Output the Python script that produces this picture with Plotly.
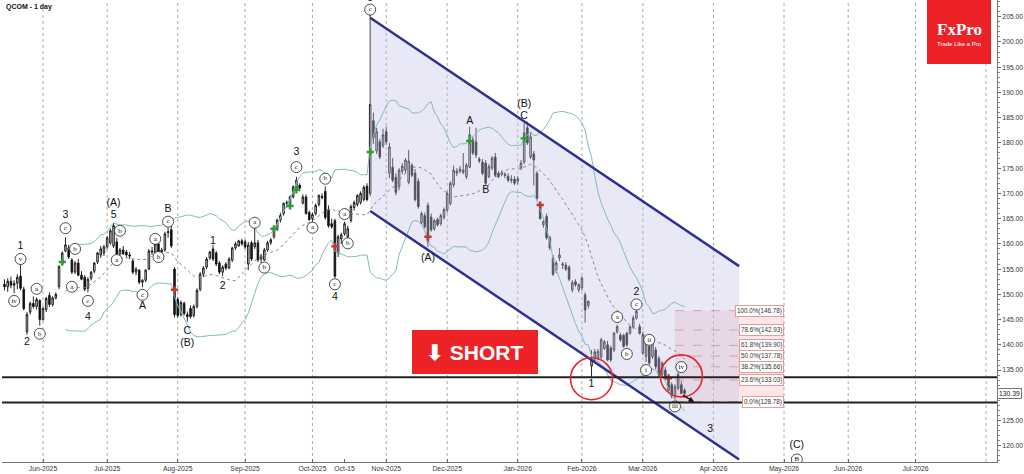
import pandas as pd
import numpy as np
import plotly.graph_objects as go

# ---------------- calendar (trading days) ----------------
holidays = ["2025-05-26", "2025-06-19", "2025-07-04", "2025-09-01", "2025-11-27",
            "2025-12-25", "2026-01-01", "2026-01-19", "2026-02-16", "2026-05-25",
            "2026-06-19", "2026-07-03"]
cal = pd.offsets.CustomBusinessDay(holidays=holidays)
days = pd.date_range("2025-05-14", "2026-08-31", freq=cal)
day_index = {d.strftime("%Y-%m-%d"): i for i, d in enumerate(days)}


def xi(s):
    return day_index[s]


# ---------------- OHLC data (QCOM daily) ----------------
open_ = [
    152.0, 151.5, 152.6, 151.8, 152.2, 153.6, 151.0, 142.6, 146.5, 148.2, 147.6, 148.8,
    145.0, 147.0, 149.8, 148.0, 149.3, 151.5, 156.0, 158.6, 159.2, 156.8, 154.4, 156.2, 153.8, 153.4, 151.2, 153.2, 154.6, 156.4, 157.8, 158.2,
    159.4, 160.2, 159.6, 160.4, 158.0, 158.8, 158.4, 157.8, 156.6, 154.4, 154.8, 152.4, 152.8, 155.0, 158.6, 158.2, 160.0, 158.4, 158.8, 162.2, 162.8, 155.0,
    149.0, 146.0, 148.2, 146.0, 147.2, 145.8, 147.6, 151.0, 154.0, 155.4, 157.2, 159.0, 158.2, 156.2, 154.4, 156.0, 155.2, 156.8, 159.2, 159.6, 160.6,
    160.4, 156.0, 160.2, 159.4, 160.2, 157.0, 156.8, 158.8, 160.2, 161.4, 162.8, 164.7, 166.0, 168.0, 167.3, 169.3, 170.6, 171.6, 168.1, 169.3, 166.2,
    165.0, 166.0, 167.8, 169.4, 170.4, 166.8, 164.0, 164.6, 158.2, 161.0, 162.0, 161.4, 164.6, 167.2, 167.8, 168.2, 168.8, 171.4, 170.0, 184.4, 178.4, 180.2, 179.4,
    182.2, 174.0, 175.2, 173.2, 171.3, 174.4, 174.6, 172.2, 175.6, 174.0, 172.4, 164.2, 165.6, 167.6, 165.3, 163.0, 164.8, 164.0, 165.2,
    166.7, 168.0, 171.7, 174.0, 174.4, 174.2, 173.3, 175.2, 180.6, 180.2, 176.8, 176.2, 176.0, 173.3, 175.0, 177.2, 174.0, 173.8, 173.8, 173.4, 172.8, 172.8,
    172.4, 175.0, 176.2, 183.0, 177.2, 177.8, 174.0, 167.4, 163.8, 165.4, 161.2, 157.2, 154.8, 157.2, 155.8, 155.8, 155.4, 150.9, 152.5, 150.9,
    151.3, 149.9, 147.8, 135.8, 137.0, 137.4, 137.6, 139.3, 140.0, 139.4, 139.0, 142.6, 141.9, 141.9, 142.3, 142.3, 143.5, 145.3, 143.6,
    138.4, 137.7, 139.7, 137.7, 139.0, 137.3, 134.1, 135.0, 133.7, 132.1, 129.8, 131.4, 132.1, 131.0,
]
high_ = [
    153.0, 153.2, 153.5, 152.8, 154.0, 156.0, 151.5, 146.5, 148.6, 149.6, 149.4, 149.0,
    147.6, 149.5, 150.4, 149.6, 150.4, 155.8, 158.5, 161.3, 159.8, 157.2, 156.6, 157.0, 154.6, 153.8, 153.4, 154.6, 156.4, 158.4, 159.6, 159.8,
    161.6, 163.0, 164.2, 161.2, 159.2, 159.6, 158.8, 158.4, 157.0, 155.4, 155.0, 153.0, 155.0, 159.0, 159.4, 160.4, 160.6, 159.2, 162.4, 163.2, 163.8, 155.4,
    149.4, 148.8, 148.6, 146.6, 147.8, 148.0, 151.2, 154.4, 155.6, 157.4, 158.6, 159.8, 158.6, 156.6, 155.8, 156.4, 157.4, 159.4, 160.4, 160.8, 161.0,
    160.8, 160.4, 160.6, 163.4, 160.8, 158.0, 159.2, 160.6, 161.2, 163.0, 165.0, 166.2, 168.2, 168.6, 169.6, 171.6, 173.3, 172.0, 169.8, 169.8, 166.6,
    166.2, 168.0, 169.8, 170.0, 171.4, 167.6, 165.0, 165.0, 161.8, 162.2, 164.4, 163.6, 167.8, 168.6, 169.8, 170.4, 171.6, 172.0, 205.6, 186.0, 183.0, 180.8, 182.8,
    183.2, 180.0, 177.0, 174.0, 175.0, 176.0, 177.0, 178.6, 176.0, 174.8, 173.0, 166.4, 166.2, 168.2, 166.0, 165.0, 165.2, 166.0, 167.2,
    170.4, 172.4, 175.5, 175.0, 175.4, 178.0, 176.0, 183.2, 181.2, 183.0, 177.2, 176.8, 176.6, 175.8, 177.4, 178.0, 174.4, 174.6, 174.2, 174.0, 173.6, 173.4,
    173.4, 176.6, 184.0, 184.2, 182.0, 178.4, 174.4, 168.0, 164.8, 166.0, 161.6, 157.8, 156.6, 159.2, 156.4, 156.4, 155.8, 152.8, 153.0, 152.2,
    153.6, 150.4, 148.8, 139.0, 139.2, 139.2, 141.4, 141.0, 140.8, 139.8, 142.6, 144.0, 142.4, 142.2, 142.6, 143.8, 145.8, 147.3, 144.2,
    142.6, 141.2, 141.6, 141.4, 139.6, 137.8, 136.8, 135.6, 134.2, 132.6, 132.2, 134.6, 132.8, 131.4,
]
low_ = [
    150.8, 150.5, 151.2, 150.2, 151.0, 150.8, 146.8, 142.0, 146.0, 147.2, 147.0, 143.8,
    144.8, 146.5, 147.5, 147.6, 149.0, 151.0, 155.8, 158.4, 157.0, 154.0, 154.0, 153.6, 152.8, 150.6, 150.4, 152.8, 154.2, 156.0, 157.2, 157.6,
    159.0, 159.8, 159.2, 157.6, 157.6, 157.8, 157.4, 157.0, 154.0, 153.8, 152.0, 151.4, 152.4, 154.8, 157.8, 158.0, 157.8, 158.0, 158.4, 161.2, 159.2, 145.4,
    145.4, 145.6, 145.8, 144.6, 145.2, 145.4, 147.2, 150.6, 153.4, 155.0, 156.8, 156.6, 155.6, 154.0, 153.6, 154.8, 155.0, 156.4, 158.8, 159.4, 159.6,
    159.0, 154.8, 156.6, 159.0, 156.4, 156.2, 156.6, 158.4, 159.8, 161.0, 162.6, 164.2, 165.6, 167.2, 167.0, 169.0, 170.4, 170.4, 167.8, 165.8, 164.6,
    164.4, 165.6, 167.4, 168.8, 164.8, 163.2, 163.0, 153.2, 157.4, 160.0, 161.6, 161.0, 164.2, 166.6, 167.4, 167.8, 168.4, 168.4, 169.4, 179.8, 177.8, 176.8, 179.0,
    179.6, 173.0, 172.2, 169.6, 170.6, 173.8, 174.0, 171.8, 173.2, 168.4, 167.0, 163.8, 163.0, 159.4, 162.4, 162.6, 163.4, 163.6, 164.8,
    166.2, 167.6, 171.2, 173.4, 174.0, 173.8, 172.8, 175.0, 177.6, 177.0, 176.0, 173.6, 171.6, 173.0, 174.6, 173.2, 173.0, 173.4, 173.0, 172.2, 172.0, 171.6,
    171.8, 174.6, 175.8, 179.6, 176.8, 171.6, 168.6, 164.8, 163.2, 160.8, 158.8, 153.6, 154.2, 156.6, 155.0, 154.6, 152.6, 150.4, 151.5, 150.4,
    150.8, 144.4, 147.2, 133.4, 136.4, 137.0, 137.2, 139.0, 136.8, 136.6, 138.6, 142.2, 140.6, 139.4, 139.6, 142.0, 143.2, 145.0, 142.0,
    138.0, 136.6, 136.0, 137.2, 135.2, 133.6, 133.8, 133.0, 130.8, 129.4, 129.2, 131.0, 130.2, 129.6,
]
close_ = [
    151.5, 152.6, 151.8, 152.2, 153.4, 151.2, 147.2, 146.0, 148.2, 147.6, 149.0, 145.0,
    147.2, 149.2, 148.0, 149.3, 150.0, 155.5, 158.2, 159.8, 157.4, 154.4, 156.2, 153.8, 153.0, 151.0, 153.0, 154.4, 156.2, 158.2, 159.0, 159.4,
    161.2, 162.6, 163.6, 158.0, 158.8, 158.0, 157.8, 157.6, 154.4, 155.0, 152.4, 152.8, 154.8, 158.6, 158.4, 160.0, 158.4, 158.8, 162.0, 162.4, 159.6, 146.0,
    145.8, 148.4, 146.2, 145.6, 145.6, 147.6, 150.8, 154.0, 155.2, 157.0, 158.4, 157.0, 156.0, 154.4, 155.4, 155.2, 157.0, 159.2, 160.0, 160.6, 160.0,
    159.4, 159.8, 157.0, 160.2, 156.8, 157.6, 158.8, 160.2, 160.8, 162.8, 164.7, 165.6, 168.0, 168.2, 169.3, 171.3, 172.6, 171.0, 169.3, 166.0, 164.8,
    165.8, 167.6, 169.6, 169.2, 165.2, 163.6, 163.4, 153.6, 161.4, 161.8, 164.0, 163.0, 167.4, 168.2, 169.6, 170.0, 171.2, 168.8, 187.6, 181.0, 182.2, 177.2, 181.6,
    180.2, 179.2, 172.6, 170.2, 174.6, 175.4, 176.6, 176.4, 173.6, 168.8, 167.4, 166.0, 163.4, 160.4, 162.8, 164.6, 163.8, 165.6, 166.8,
    170.0, 172.0, 174.6, 174.4, 174.8, 174.6, 175.6, 181.6, 178.0, 177.6, 176.4, 174.0, 172.0, 175.3, 177.0, 173.6, 173.3, 174.0, 173.6, 172.6, 172.6, 172.0,
    172.9, 176.0, 182.0, 180.0, 181.2, 176.6, 169.0, 165.0, 164.4, 161.2, 159.2, 154.0, 156.2, 157.8, 156.0, 155.0, 153.0, 152.3, 151.9, 151.9,
    153.2, 146.9, 148.6, 137.0, 138.6, 138.7, 141.0, 140.6, 137.0, 137.0, 142.3, 143.6, 141.0, 139.7, 140.0, 143.6, 145.3, 146.6, 142.3,
    142.0, 140.6, 136.4, 141.0, 135.7, 134.0, 136.4, 133.4, 131.0, 129.8, 131.7, 134.1, 130.4, 130.39,
]
assert len(open_) == len(high_) == len(low_) == len(close_) == 213
x_c = list(range(len(close_)))

# ---------------- drawings ----------------
channel_dates = ["2025-10-27", "2026-04-13"]
channel_upper = [204.8, 155.6]
channel_lower = [166.5, 117.3]

fib_dates = ["2026-03-16", "2026-05-01"]
fib_pct = ["100.0%", "78.6%", "61.8%", "50.0%", "38.2%", "23.6%", "0.0%"]
fib_val = [146.78, 142.93, 139.90, 137.78, 135.66, 133.03, 128.78]

hlines = [133.6, 128.6]
last_price = 130.39

circle_centers = [("2026-02-05", 133.3), ("2026-03-18", 133.85)]

plain_labels = [
    ("2025-05-21", 159.6, "1"), ("2025-05-23", 140.4, "2"), ("2025-06-11", 165.7, "3"),
    ("2025-06-23", 145.5, "4"), ("2025-07-03", 168.0, "(A)"), ("2025-07-03", 165.6, "5"),
    ("2025-07-17", 147.7, "A"), ("2025-07-29", 166.9, "B"), ("2025-08-06", 142.6, "C"),
    ("2025-08-06", 140.2, "(B)"), ("2025-08-18", 160.5, "1"), ("2025-08-21", 151.5, "2"),
    ("2025-09-24", 178.1, "3"), ("2025-10-10", 149.5, "4"), ("2025-10-27", 208.6, "5"),
    ("2025-11-20", 157.2, "(A)"), ("2025-12-10", 184.2, "A"), ("2025-12-17", 170.5, "B"),
    ("2026-01-06", 187.7, "(B)"), ("2026-01-06", 185.3, "C"), ("2026-02-05", 132.1, "1"),
    ("2026-02-26", 150.4, "2"), ("2026-03-31", 123.2, "3"), ("2026-05-07", 120.0, "(C)"),
]
circled_labels = [
    ("2025-05-19", 148.7, "iv"), ("2025-05-21", 157.0, "v"), ("2025-05-29", 151.1, "a"),
    ("2025-05-30", 142.2, "b"), ("2025-06-11", 163.1, "c"), ("2025-06-13", 151.5, "a"),
    ("2025-06-16", 159.0, "b"), ("2025-06-23", 148.7, "c"), ("2025-07-07", 156.8, "a"),
    ("2025-07-08", 162.6, "b"), ("2025-07-17", 149.9, "c"), ("2025-07-23", 161.0, "a"),
    ("2025-07-24", 157.4, "b"), ("2025-07-29", 164.4, "c"), ("2025-09-05", 164.2, "a"),
    ("2025-09-10", 155.3, "b"), ("2025-09-24", 175.2, "c"), ("2025-10-01", 163.2, "a"),
    ("2025-10-07", 172.9, "b"), ("2025-10-10", 152.0, "c"), ("2025-10-15", 165.9, "a"),
    ("2025-10-16", 160.1, "b"), ("2025-10-27", 206.4, "c"), ("2026-02-18", 145.5, "a"),
    ("2026-02-23", 138.2, "b"), ("2026-02-26", 148.0, "c"), ("2026-03-03", 135.0, "i"),
    ("2026-03-04", 141.0, "ii"), ("2026-03-16", 127.8, "iii"), ("2026-03-18", 135.6, "iv"),
    ("2026-05-07", 117.3, "B"),
]
green_marks = [("2025-06-10", 156.4), ("2025-09-15", 163.0), ("2025-09-22", 167.5),
               ("2025-09-24", 170.7), ("2025-10-27", 178.2), ("2025-12-10", 180.4),
               ("2026-01-06", 180.9)]
red_marks = [("2025-07-31", 150.9), ("2025-10-10", 159.5), ("2025-11-20", 161.4),
             ("2026-01-13", 167.7), ("2026-03-12", 133.4)]
arrow_tail = ("2026-03-18", 130.2)
arrow_head = ("2026-03-24", 128.7)

y_ticks = [120, 125, 135, 140, 145, 150, 155, 160, 165, 170, 175, 180, 185, 190, 195, 200, 205]

# ---------------- layout geometry ----------------
W, H = 1024, 474
ML, MR, MT, MB = 2, 27, 0, 12
plot_w, plot_h = W - ML - MR, H - MT - MB
x_range = [-0.78, 309.4]
y_range = [116.8, 208.3]
px_day = plot_w / (x_range[1] - x_range[0])
px_price = plot_h / (y_range[1] - y_range[0])

fig = go.Figure()

# channel fill
cx = [xi(d) for d in channel_dates]
fig.add_trace(go.Scatter(x=[cx[0], cx[1], cx[1], cx[0], cx[0]],
                         y=[channel_upper[0], channel_upper[1], channel_lower[1], channel_lower[0], channel_upper[0]],
                         fill="toself", fillcolor="rgba(190,190,230,0.36)", line=dict(width=0),
                         mode="lines", hoverinfo="skip", showlegend=False))

# fib zone
fx = [xi(d) for d in fib_dates]
fig.add_shape(type="rect", x0=fx[0], x1=fx[1], y0=min(fib_val), y1=max(fib_val),
              fillcolor="rgba(240,140,140,0.22)", line=dict(width=0), layer="below")
for p, v in zip(fib_pct, fib_val):
    fig.add_shape(type="line", x0=fx[0], x1=fx[1], y0=v, y1=v,
                  line=dict(color="#e07a7a", width=0.8, dash="dash"), layer="below")
    fig.add_annotation(x=fx[1], y=v, text=f"{p}({v:.2f})", showarrow=False, xanchor="right",
                       font=dict(size=6.3, color="#333", family="Liberation Sans"),
                       bgcolor="white", bordercolor="#e89a9a", borderwidth=1, borderpad=1)

# month gridlines & ticks
month_starts = []
seen = set()
for i, d in enumerate(days):
    if (d.year, d.month) not in seen:
        seen.add((d.year, d.month))
        if d >= pd.Timestamp("2025-06-01"):
            month_starts.append((i, d))
for i, d in month_starts:
    fig.add_shape(type="line", x0=i, x1=i, y0=0, y1=1, yref="paper",
                  line=dict(color="#aaaaaa", width=1, dash="dot"), layer="below")
tick_pairs = [(i, d.strftime("%b-%Y")) for i, d in month_starts if d < pd.Timestamp("2026-08-01")]
tick_pairs.append((xi("2025-10-15"), "Oct-15"))
tick_pairs.sort()

# horizontal levels
for v in hlines:
    fig.add_shape(type="line", x0=0, x1=1, xref="paper", y0=v, y1=v,
                  line=dict(color="#222222", width=2))

# Bollinger bands (20, 2)
s = pd.Series(close_)
mid = s.rolling(20).mean()
sd = s.rolling(20).std(ddof=0)
fig.add_trace(go.Scatter(x=x_c, y=mid + 2 * sd, mode="lines", line=dict(color="#84babd", width=1),
                         hoverinfo="skip", showlegend=False))
fig.add_trace(go.Scatter(x=x_c, y=mid - 2 * sd, mode="lines", line=dict(color="#84babd", width=1),
                         hoverinfo="skip", showlegend=False))
fig.add_trace(go.Scatter(x=x_c, y=mid, mode="lines", line=dict(color="#888888", width=1, dash="dot"),
                         hoverinfo="skip", showlegend=False))

# channel lines
fig.add_trace(go.Scatter(x=cx, y=channel_upper, mode="lines", line=dict(color="#2e3192", width=2.5),
                         hoverinfo="skip", showlegend=False))
fig.add_trace(go.Scatter(x=cx, y=channel_lower, mode="lines", line=dict(color="#2e3192", width=2.5),
                         hoverinfo="skip", showlegend=False))

# candles
fig.add_trace(go.Candlestick(x=x_c, open=open_, high=high_, low=low_, close=close_,
                             increasing=dict(line=dict(color="#111111", width=0.9), fillcolor="#d4d4d4"),
                             decreasing=dict(line=dict(color="#111111", width=0.9), fillcolor="#111111"),
                             whiskerwidth=0, showlegend=False, hoverinfo="skip"))

# signal marks
fig.add_trace(go.Scatter(x=[xi(d) for d, _ in green_marks], y=[p for _, p in green_marks], mode="markers",
                         marker=dict(symbol="cross", size=6, color="#2ca02c"), hoverinfo="skip", showlegend=False))
fig.add_trace(go.Scatter(x=[xi(d) for d, _ in red_marks], y=[p for _, p in red_marks], mode="markers",
                         marker=dict(symbol="cross", size=6, color="#c0392b"), hoverinfo="skip", showlegend=False))

# wave labels
fig.add_trace(go.Scatter(x=[xi(d) for d, _, _ in plain_labels], y=[p for _, p, _ in plain_labels],
                         text=[t for _, _, t in plain_labels], mode="text",
                         textfont=dict(size=10.5, color="#111", family="Liberation Sans"),
                         hoverinfo="skip", showlegend=False))
fig.add_trace(go.Scatter(x=[xi(d) for d, _, _ in circled_labels], y=[p for _, p, _ in circled_labels],
                         text=[t for _, _, t in circled_labels], mode="markers+text",
                         marker=dict(size=11, color="white", line=dict(color="#222", width=0.8)),
                         textfont=dict(size=7, color="#111", family="Liberation Serif"),
                         textposition="middle center", hoverinfo="skip", showlegend=False))

# red circles
r_px = 21
for d, p in circle_centers:
    c = xi(d)
    fig.add_shape(type="circle", x0=c - r_px / px_day, x1=c + r_px / px_day,
                  y0=p - r_px / px_price, y1=p + r_px / px_price,
                  line=dict(color="#e8242a", width=1.6))

# small direction arrow
fig.add_annotation(x=xi(arrow_head[0]), y=arrow_head[1], ax=xi(arrow_tail[0]), ay=arrow_tail[1],
                   axref="x", ayref="y", showarrow=True, arrowhead=2, arrowsize=0.8,
                   arrowwidth=1.4, arrowcolor="#111", text="")


def px2paper(x, y):
    return (x - ML) / plot_w, 1 - (y - MT) / plot_h


# SHORT box
sx0, sy0 = px2paper(412, 374)
sx1, sy1 = px2paper(538, 330)
fig.add_shape(type="rect", xref="paper", yref="paper", x0=sx0, x1=sx1, y0=sy0, y1=sy1,
              fillcolor="#ec2227", line=dict(width=0))
fig.add_annotation(xref="paper", yref="paper", x=(sx0 + sx1) / 2, y=(sy0 + sy1) / 2,
                   xanchor="center", yanchor="middle",
                   text="<b>⬇ SHORT</b>", showarrow=False,
                   font=dict(size=21, color="white", family="Liberation Sans"))

# FxPro logo
lx0, ly0 = px2paper(927, 64)
lx1, ly1 = px2paper(991, 0)
fig.add_shape(type="rect", xref="paper", yref="paper", x0=lx0, x1=lx1, y0=ly0, y1=ly1,
              fillcolor="#ec2227", line=dict(width=0))
fig.add_annotation(xref="paper", yref="paper", x=(lx0 + lx1) / 2, y=px2paper(0, 29)[1],
                   xanchor="center", yanchor="middle",
                   text="<b>FxPro</b>", showarrow=False,
                   font=dict(size=17, color="white", family="Liberation Serif"))
fig.add_annotation(xref="paper", yref="paper", x=(lx0 + lx1) / 2, y=px2paper(0, 44)[1],
                   xanchor="center", yanchor="middle",
                   text="Trade Like a Pro", showarrow=False,
                   font=dict(size=6, color="white", family="Liberation Sans"))

# title
fig.add_annotation(xref="paper", yref="paper", x=0.002, y=0.998, xanchor="left", yanchor="top",
                   text="<b>QCOM - 1 day</b>", showarrow=False,
                   font=dict(size=7, color="#111", family="Liberation Sans"))

# last price tag
fig.add_annotation(xref="paper", x=1.0, y=last_price, xanchor="left", text=f"{last_price:.2f}",
                   showarrow=False, bgcolor="white", bordercolor="#777", borderwidth=1, borderpad=1,
                   font=dict(size=6.8, color="#222", family="Liberation Sans"))

fig.update_layout(
    width=W, height=H, margin=dict(l=ML, r=MR, t=MT, b=MB, autoexpand=False),
    paper_bgcolor="white", plot_bgcolor="white", showlegend=False,
    xaxis=dict(range=x_range, showgrid=False, zeroline=False, rangeslider=dict(visible=False),
               tickvals=[i for i, _ in tick_pairs], ticktext=[t for _, t in tick_pairs],
               tickfont=dict(size=6.8, color="#333", family="Liberation Sans"),
               ticks="inside", ticklen=3, tickcolor="#666", showline=True, linecolor="#777",
               linewidth=1, mirror=False),
    yaxis=dict(range=y_range, side="right", showgrid=False, zeroline=False,
               tickvals=y_ticks, ticktext=[f"{v:.2f}" for v in y_ticks],
               tickfont=dict(size=6.8, color="#333", family="Liberation Sans"),
               ticks="outside", ticklen=3, tickcolor="#666", showline=True, linecolor="#777",
               linewidth=1, minor=dict(dtick=1, ticks="outside", ticklen=1.5, tickcolor="#888")),
)

fig.write_html("out.html", config={"displayModeBar": False},
               post_script="document.body.style.margin='0';document.body.style.overflow='hidden';")
